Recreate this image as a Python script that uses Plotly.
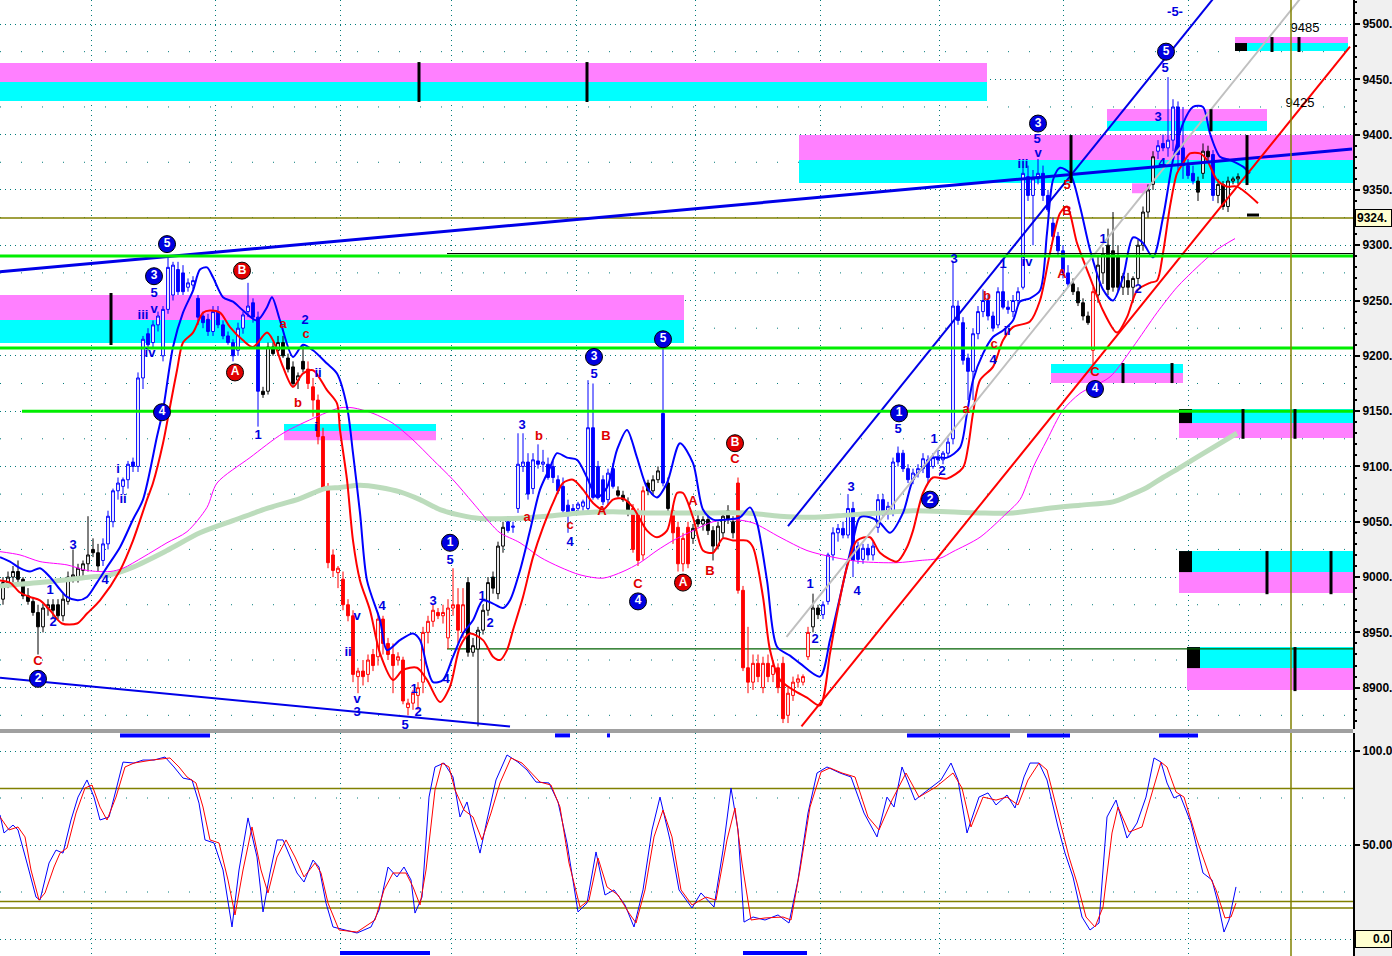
import plotly.graph_objects as go

# ---------------- price bars (bar index = trading day) ----------------
opens = [8980,8995,9000,9005,8998,8983,8978,8968,8955,8972,8975,8975,8965,8978,9000,9000,9006,9012,9025,9022,
         9015,9030,9050,9078,9082,9088,9104,9100,9180,9220,9212,9228,9200,9242,9255,9278,9275,9262,9264,9252,
         9236,9233,9222,9240,9228,9218,9212,9205,9225,9240,9248,9235,9168,9168,9208,9205,9212,9198,9190,9178,
         9195,9188,9172,9160,9127,9081,9020,9004,8998,8975,8965,8910,8915,8912,8930,8928,8962,8940,8930,8925,
         8925,8882,8886,8893,8905,8950,8960,8968,8965,8945,8972,8975,8950,8995,8932,8935,8952,8970,9000,8985,
         9028,9050,9045,9062,9100,9104,9080,9105,9102,9102,9100,9088,9082,9065,9062,9062,9064,9062,9135,9100,
         9088,9070,9098,9078,9074,9068,9062,9058,9020,9085,9078,9088,9148,9085,9060,9045,9012,9045,9035,9052,
         9048,9052,9042,9028,9040,9060,9050,9085,8988,8918,8905,8922,8900,8922,8912,8918,8922,8875,8893,8905,
         8905,8928,8955,8972,8966,8978,9020,9040,9044,9038,9062,9028,9016,9026,9020,9045,9070,9058,9060,9112,
         9112,9098,9088,9094,9098,9106,9100,9108,9106,9112,9125,9245,9230,9198,9186,9220,9240,9250,9236,9228,
         9258,9244,9240,9250,9262,9362,9345,9360,9365,9345,9320,9308,9295,9275,9265,9258,9248,9236,9205,9255,
         9275,9300,9295,9290,9262,9268,9262,9270,9300,9330,9355,9385,9392,9388,9395,9425,9388,9372,9365,9358,
         9365,9385,9382,9345,9355,9335,9358,9360]
highs = [9000,9005,9010,9015,9000,8990,8982,8975,8975,8980,8980,8980,8985,9005,9025,9012,9015,9055,9035,9030,
         9035,9060,9080,9090,9090,9105,9108,9185,9218,9225,9232,9240,9245,9290,9285,9285,9282,9270,9272,9255,
         9240,9238,9245,9245,9232,9222,9215,9230,9240,9266,9252,9240,9172,9212,9212,9218,9218,9202,9195,9185,
         9210,9195,9180,9165,9135,9085,9025,9010,9005,8980,8970,8918,8925,8930,8935,8968,8965,8945,8940,8932,
         8928,8890,8898,8905,8955,8965,8975,8972,8975,8980,9008,8990,8990,9000,8945,8955,8975,9000,9005,9032,
         9050,9055,9050,9130,9130,9112,9112,9120,9115,9108,9105,9092,9090,9070,9066,9068,9070,9178,9175,9105,
         9092,9098,9103,9082,9078,9072,9066,9062,9082,9088,9092,9100,9208,9090,9065,9050,9040,9050,9048,9058,
         9055,9056,9046,9050,9058,9065,9055,9090,8992,8955,8930,8930,8928,8930,8925,8922,8928,8900,8910,8912,
         8912,8955,8985,8975,8978,9022,9045,9048,9050,9075,9068,9032,9030,9030,9032,9075,9075,9068,9108,9118,
         9115,9102,9098,9102,9112,9110,9112,9115,9114,9126,9285,9250,9235,9202,9225,9245,9260,9255,9240,9262,
         9280,9250,9255,9262,9370,9372,9368,9378,9372,9350,9325,9312,9300,9282,9270,9262,9252,9240,9262,9290,
         9298,9315,9330,9300,9275,9275,9272,9305,9335,9355,9385,9395,9400,9452,9432,9430,9425,9378,9372,9362,
         9392,9390,9386,9360,9358,9362,9362,9365]
lows = [8975,8990,8995,8995,8980,8975,8965,8930,8950,8965,8962,8962,8960,8975,8995,8995,9000,9005,9018,9005,
        9010,9025,9045,9070,9075,9080,9095,9095,9170,9205,9208,9222,9195,9238,9250,9255,9255,9258,9260,9228,
        9225,9218,9218,9225,9215,9210,9195,9200,9220,9235,9230,9136,9162,9165,9200,9200,9198,9185,9172,9170,
        9185,9170,9145,9120,9078,9008,9000,8990,8970,8960,8905,8895,8902,8905,8915,8920,8930,8925,8895,8920,
        8885,8875,8880,8880,8895,8940,8955,8962,8958,8935,8965,8940,8945,8928,8928,8865,8948,8965,8985,8980,
        9022,9040,9040,9058,9095,9070,9075,9098,9095,9088,9085,9075,9055,9040,9058,9058,9060,9058,9070,9070,
        9065,9065,9080,9072,9068,9055,9022,9010,9015,9074,9074,9085,9082,9058,9030,9005,9005,9008,9030,9045,
        9042,9038,9015,9025,9035,9048,9035,8985,8915,8895,8898,8905,8895,8905,8905,8895,8868,8868,8888,8900,
        8902,8925,8950,8962,8962,8975,9015,9032,9035,9035,9000,9012,9012,9015,9015,9040,9055,9052,9055,9100,
        9095,9085,9084,9090,9094,9085,9098,9102,9102,9108,9120,9228,9192,9160,9160,9215,9235,9232,9222,9225,
        9242,9238,9235,9245,9260,9340,9300,9355,9340,9330,9305,9290,9270,9262,9255,9245,9232,9228,9192,9248,
        9265,9255,9258,9258,9255,9255,9248,9265,9295,9325,9350,9378,9385,9380,9385,9368,9360,9360,9355,9340,
        9360,9375,9340,9338,9332,9330,9355,9355]
closes = [8995,9000,9005,8998,8983,8978,8968,8955,8972,8975,8970,8965,8980,9000,9002,9008,9012,9020,9022,9010,
          9030,9055,9078,9085,9088,9102,9100,9180,9215,9210,9228,9236,9242,9280,9282,9258,9258,9266,9268,9235,
          9230,9222,9240,9228,9218,9212,9200,9225,9237,9245,9235,9168,9165,9208,9202,9212,9200,9188,9175,9182,
          9188,9175,9160,9127,9081,9013,9006,9008,8975,8965,8912,8915,8910,8925,8920,8962,8940,8930,8920,8928,
          8888,8886,8895,8900,8950,8960,8970,8965,8968,8972,8975,8952,8975,8932,8938,8952,8970,8995,8990,9028,
          9045,9042,9046,9102,9104,9075,9106,9102,9104,9090,9090,9078,9060,9058,9060,9066,9068,9135,9072,9072,
          9068,9094,9082,9074,9070,9058,9025,9015,9078,9078,9088,9096,9085,9062,9040,9012,9035,9012,9044,9048,
          9052,9042,9028,9046,9055,9052,9040,8988,8918,8905,8922,8910,8922,8910,8920,8900,8872,8895,8905,8908,
          8910,8950,8972,8966,8975,9020,9040,9044,9038,9062,9015,9016,9026,9020,9028,9070,9058,9064,9104,9104,
          9098,9088,9094,9098,9107,9090,9108,9106,9112,9122,9245,9232,9196,9186,9220,9240,9250,9236,9225,9258,
          9244,9242,9250,9258,9365,9345,9360,9365,9345,9332,9308,9295,9275,9265,9258,9248,9236,9230,9258,9282,
          9292,9260,9262,9262,9272,9262,9270,9300,9330,9350,9380,9390,9388,9395,9425,9382,9372,9363,9358,9348,
          9385,9380,9345,9355,9335,9358,9360,9362]
# trend state of each bar: n = neutral (black), u = up (blue), d = down (red)
trend_state = ("n"*20 + "u"*32 + "n"*9 + "d"*32 + "n"*8 + "u"*22 + "n"*3 + "d"*3 + "n"*3 + "u" + "n" +
               "d"*4 + "n"*9 + "d"*15 + "n"*2 + "u"*50 + "n"*4 + "d" + "n"*12 + "u"*8 + "n"*3 + "u" + "n"*5)
bars = list(range(len(closes)))

# ---------------- indicator lines (bar, price) ----------------
blue_env = [(-0.6,9018),(1.4,9014),(3.4,9008),(5.4,9005),(7.4,9008),(9.4,9000),(11,8991),(12.8,8982),(15,8979),
            (16.8,8982),(18.8,8995),(20.8,9009),(23.4,9027),(26,9052),(28,9070),(30.8,9127),(32,9151),(34,9208),
            (36,9239),(38,9259),(39.4,9278),(40.8,9280),(42,9271),(44,9253),(46,9249),(48,9241),(50.8,9232),
            (52.8,9244),(53.8,9253),(55.4,9232),(58,9199),(60,9210),(62,9205),(64.8,9193),(66.8,9184),(68.8,9154),
            (70,9112),(71.4,9058),(72.8,8997),(75.4,8961),(76.8,8934),(79.4,8943),(82,8949),(83.4,8943),(84.8,8919),
            (86,8905),(88,8907),(90,8928),(92,8949),(94,8961),(96,8979),(98,8976),(100,8972),(101.4,8979),
            (103.4,9006),(105.4,9042),(107.4,9079),(109.4,9099),(110.8,9112),(112.8,9108),(114.8,9106),(116.8,9090),
            (118.8,9072),(120.8,9081),(122.8,9115),(124.8,9133),(126.8,9108),(128.8,9081),(130.8,9072),(132.8,9085),
            (135.4,9121),(138,9103),(140,9061),(142,9052),(144.8,9052),(147.4,9054),(149.4,9063),(150.8,9049),
            (152.8,8997),(154.8,8937),(157.4,8929),(159.4,8922),(163.4,8910),(165.4,8943),(167.4,8982),(170,9033),
            (171.4,9054),(173.4,9054),(175.4,9049),(177.4,9040),(180,9058),(182,9088),(184,9099),(186,9108),
            (188.8,9108),(191.4,9117),(192.8,9148),(194,9178),(196,9202),(198,9217),(200,9223),(202,9232),
            (203.4,9249),(205.4,9252),(207.4,9259),(208.8,9311),(210,9359),(211.4,9370),(213.4,9365),(215.4,9335),
            (217.4,9296),(220,9260),(222,9250),(224,9271),(226,9307),(228,9302),(230,9289),(232,9325),(234,9377),
            (236,9410),(238,9425),(240,9425),(241.4,9401),(243.4,9380),(245.4,9377),(248,9371),(249.4,9365)]
red_env = [(-0.6,8997),(1.4,8995),(3.4,8986),(5.4,8982),(7.4,8979),(9.4,8970),(11.8,8958),(14.8,8958),(16.8,8967),
           (19.4,8979),(23.4,9006),(26,9033),(28.8,9070),(30,9085),(32,9121),(33.4,9154),(34.8,9187),(36,9212),
           (38,9221),(40,9239),(41.4,9241),(43.4,9239),(45.4,9226),(48,9214),(50,9208),(52.8,9221),(54,9214),
           (56,9190),(58,9172),(60,9184),(62,9187),(64.8,9169),(66.8,9157),(67.4,9133),(68.8,9088),(70,9033),
           (71.4,8997),(73.4,8970),(75.4,8931),(78,8907),(80,8916),(82.8,8918),(84.8,8907),(87.4,8887),(89.4,8901),
           (91.4,8937),(93.4,8949),(96,8943),(98,8928),(99.4,8925),(100.8,8934),(102,8952),(104,8982),(106,9018),
           (108,9045),(110,9067),(112,9085),(114,9088),(116,9079),(118,9067),(120,9061),(122,9070),(124,9071),
           (126,9063),(128.8,9042),(130.8,9036),(132.8,9042),(134.8,9076),(136,9076),(138,9054),(140,9024),
           (142,9022),(144,9035),(146,9033),(148.8,9033),(150,9027),(152,8982),(153.4,8934),(155.4,8907),(158,8898),
           (160.8,8891),(163.4,8884),(165.4,8931),(166.8,8967),(168.8,9009),(170.8,9033),(173.4,9036),(175.4,9022),
           (178.8,9014),(180.8,9027),(182,9042),(184,9076),(186,9090),(188.8,9089),(192,9099),(193,9117),(194,9148),
           (195.4,9178),(198,9190),(200,9214),(202,9226),(205.4,9231),(207.4,9250),(209.4,9293),(211.4,9329),
           (212.8,9335),(214.8,9302),(217.4,9271),(220,9241),(222.8,9221),(224.8,9235),(226.8,9259),(229.4,9266),
           (230.8,9268),(232,9293),(233.4,9335),(234.8,9365),(236,9374),(237.4,9383),(239.4,9383),(240.8,9377),
           (242.8,9359),(244.8,9353),(246.8,9353),(251,9338)]
magenta_avg = [(-0.6,9023),(3.4,9020),(7.4,9014),(12.8,9011),(16.8,9006),(21.4,9005),(24,9008),(28,9018),(32.8,9031),
               (36.8,9041),(40.8,9063),(42.8,9085),(49.4,9108),(56,9130),(62.8,9145),(67.4,9153),(70,9153),(74,9148),
               (78,9139),(82,9124),(86,9106),(90,9088),(94,9067),(97.4,9049),(99.4,9040),(103.4,9031),(107.4,9018),
               (111.4,9009),(115.4,9002),(120,8999),(124,9005),(127.4,9013),(130.8,9024),(134,9033),(138,9042),
               (142,9050),(146,9052),(150,9049),(155.4,9036),(160.8,9024),(166,9018),(171.4,9014),(178.8,9013),
               (183.4,9015),(187.4,9017),(190,9023),(195.4,9036),(200.8,9058),(203.4,9070),(206,9099),(208.8,9124),
               (212,9151),(215.4,9166),(221.4,9181),(226,9208),(230.8,9239),(234.8,9262),(238.8,9280),(242.8,9296),
               (246.4,9306)]
slow_avg = [(-0.6,8992),(7.4,8995),(17.4,9000),(21.4,9002),(26,9009),(32.8,9024),(39.4,9040),(46,9051),(52.8,9062),
            (59.4,9071),(64.4,9080),(67.4,9081),(71.4,9083),(75.4,9081),(79.4,9077),(83.4,9070),(87.4,9061),
            (91.4,9056),(95.4,9053),(102,9053),(108.8,9055),(115.4,9058),(122,9059),(128.8,9058),(142,9058),
            (148.8,9058),(155.4,9055),(161.4,9054),(168.8,9056),(175.4,9058),(182,9060),(195.4,9058),(202,9058),
            (208.8,9062),(215.4,9065),(222,9068),(225.4,9074),(228.8,9081),(232,9090),(235.4,9099),(239.4,9110),
            (246.8,9130)]

# ---------------- trend lines (bar, price) ----------------
upper_trend = [(-0.6, 9276), (269.8, 9387)]
lower_trend = [(-0.6, 8909), (101.4, 8865)]
channel_trend = [(157, 9046), (242.6, 9526)]
red_trend = [(159.7, 8865), (269.4, 9479.5)]
gray_trend = [(156.7, 8946), (260, 9526)]

# ---------------- target zones (bar0, bar1, price0, price1) ----------------
pink_zones = [(-0.6,196.8,9447.6,9464.7),(-0.6,136.2,9232.4,9255.0),(56.2,86.6,9123.8,9132.0),
              (159.2,271,9377.0,9399.6),(220.8,252.8,9412.3,9423.1),(225.8,229.4,9347.0,9356.0),
              (246.4,269.0,9482.8,9488.2),(209.6,236.0,9175.4,9184.4),(235.2,271,9125.7,9139.2),
              (235.2,271,8985.5,9004.5),(236.8,271,8897.8,8917.7)]
cyan_zones = [(-0.6,196.8,9430.4,9447.6),(-0.6,136.2,9211.6,9232.4),(56.2,86.6,9132.0,9138.3),
              (159.2,271,9356.2,9377.0),(220.8,252.8,9403.3,9412.3),(246.4,269.0,9475.6,9482.8),
              (209.6,236.0,9184.4,9192.6),(235.2,271,9139.2,9151.9),(235.2,271,9004.5,9023.5),
              (236.8,271,8917.7,8936.7)]
zone_blocks = [(246.4,248.8,9475.6,9482.8),(235.2,237.8,9139.2,9151.9),(235.2,237.8,9004.5,9023.5),
               (236.8,239.4,8917.7,8936.7)]
zone_marks = [(83.2,9429.5,9465.6),(116.8,9429.5,9465.6),(21.6,9209.8,9256.8),(213.6,9356.2,9399.6),
              (248.8,9354.4,9399.6),(241.6,9403,9423),(253.8,9474.7,9488.2),(259.2,9474.7,9488.2),
              (224,9175.4,9193.5),(233.8,9175.4,9193.5),(248,9125,9151.9),(258.4,9125,9151.9),
              (252.8,8984.5,9023.5),(265.6,8984.5,9023.5),(258.4,8896.9,8936.7)]
green_levels = [(9290.3,-0.6),(9207.0,-0.6),(9150.0,3.8)]
last_price = 9324.6
support_level = 8935.0
resist_level = 9292.5
cursor_bar = 257.6
grid_bars = [17.7, 42.5, 67.4, 89.6, 114.6, 138.4, 163.4, 187.2, 212.0, 237.0]

# ---------------- wave labels (bar, price, text) ----------------
blue_labels = [(9.4,8988,"1"),(10,8959,"2"),(14,9028,"3"),(20.4,8997,"4"),(23,9097,"i"),(24,9070,"ii"),
               (28,9236,"iii"),(29.4,9202,"iv"),(30.2,9242,"v"),(30.2,9256,"5"),(51,9128,"1"),(60.4,9232,"2"),
               (63,9184,"ii"),(62.6,9135,"i"),(69,8932,"ii"),(70.8,8964,"v"),(70.8,8889,"v"),(70.8,8877,"3"),
               (75.8,8973,"4"),(82.2,8898,"1"),(83,8877,"2"),(80.4,8866,"5"),(86,8978,"3"),(88.6,8907,"4"),
               (89.4,9015,"5"),(95.8,8982,"1"),(97.4,8958,"2"),(103.8,9137,"3"),(118.2,9183,"5"),(113.4,9031,"4"),
               (161.4,8993,"1"),(162.4,8943,"2"),(169.6,9081,"3"),(170.8,8987,"4"),(179,9133,"5"),(186.2,9124,"1"),
               (187.8,9095,"2"),(190.2,9287,"3"),(200,9282,"1"),(200.8,9222,"ii"),(198,9196,"4"),(204,9373,"iii"),
               (206.8,9395,"5"),(207,9383,"v"),(204.8,9284,"iv"),(220,9305,"1"),(227,9260,"2"),(231,9415,"3"),
               (231.8,9374,"4"),(232.4,9460,"5"),(234.4,9510,"-5-")]
red_labels = [(7,8923,"C"),(56,9228,"a"),(60.6,9219,"c"),(59,9157,"b"),(104.8,9054,"a"),(107.2,9127,"b"),
              (113.4,9046,"c"),(120.6,9127,"B"),(119.8,9059,"A"),(127,8993,"C"),(138,9068,"A"),(141.4,9005,"B"),
              (146.4,9106,"C"),(192.6,9151,"a"),(198.2,9210,"c"),(196.8,9253,"b"),(211.8,9273,"A"),
              (212.8,9330,"B"),(212.8,9354,"5"),(218.4,9185,"C")]
blue_circled = [(30.2,9272,"3"),(32.8,9301,"5"),(31.8,9149,"4"),(7,8908,"2"),(89.4,9031,"1"),(118.2,9199,"3"),
                (132,9215,"5"),(127,8978,"4"),(179.2,9148,"1"),(185.4,9070,"2"),(207,9410,"3"),(218.4,9170,"4"),
                (232.6,9475,"5")]
red_circled = [(46.4,9185,"A"),(47.8,9277,"B"),(136,8995,"A"),(146.4,9121,"B")]
price_notes = [(260.4,9496,"9485"),(259.4,9428,"9425")]

# ---------------- oscillator (bar, value) ----------------
osc_fast = [(-0.6,66),(0.2,56.4),(2,60.6),(3,58),(4.8,40.4),(6.6,22.3),(7.4,20.7),(9.2,40.4),(10.6,47.3),(12,45.7),
            (13.6,63.3),(15,75.5),(16.8,84.6),(18.2,75.5),(19.4,63.3),(21.2,64.9),(22.6,79.3),(24,94.1),(26.2,93.6),
            (28,95.2),(30.2,95.2),(32.4,96.8),(34.2,91.5),(36,85.6),(37.8,84.6),(39.2,72.3),(40.4,52.7),(42.2,51.1),
            (44,36.7),(45.8,6.4),(47.2,36.7),(49,64.4),(50.8,43.6),(52,14.4),(53.4,35.1),(54.8,52.7),(56,52.7),
            (58.8,35.1),(60.2,30.3),(62,42),(63.2,38.3),(64.6,19.1),(66,6.4),(68.2,4.8),(70.8,3.2),(73.6,6.4),
            (75.2,15.4),(77,38.3),(78.8,33),(80.2,38.3),(81.6,31.4),(82.4,13.8),(83.8,22.3),(85.2,75.5),(86.4,91.5),
            (88.2,93.6),(90,86.2),(91.4,64.9),(92.8,72.9),(94,59.6),(95.4,45.7),(96.8,63.3),(98.6,84.6),(100.8,97.9),
            (103,94.1),(104.8,89.9),(106.6,83.5),(109.2,83),(111,72.9),(112.8,51.1),(115,14.4),(116.8,19.1),
            (118.6,46.3),(120.4,23.4),(122.2,26.1),(124.4,18.1),(126.2,6.4),(128,26.1),(129.8,58),(131.4,75.5),
            (133.4,52.7),(135.2,26.1),(137.8,16.5),(139.6,24.5),(142.2,17),(144,47.3),(145.6,80.3),(147,58),
            (148.2,9),(150,11.7),(152.4,10.1),(155,12.8),(157.2,8.5),(159,31.4),(161,67),(162.8,88.3),(164.8,91.5),
            (167.4,88.3),(169.6,86.2),(172.2,67),(174.8,54.3),(176.8,75.5),(178.2,70.2),(179.8,91.5),(182.4,73.9),
            (184.2,77.7),(187.6,84.6),(189.6,93.6),(191,84.6),(192.8,56.4),(195.2,75.5),(197,77.7),(198.6,71.3),
            (200.8,76.6),(202.4,69.7),(204.2,86.2),(205.4,93.6),(207.2,93.6),(208.8,84.6),(211,59.6),(212.4,45.7),
            (214,33),(215.8,11.7),(217.4,4.8),(219.2,8.5),(220.8,64.9),(222.6,73.9),(224.8,53.7),(226.8,61.7),
            (228.6,75.5),(230.2,96.3),(231.6,94.1),(232.8,83),(234.2,75),(235.4,76.6),(237.6,61.7),(240,35.1),
            (241.8,31.4),(243,19.1),(244.2,3.7),(245.2,10.1),(246.6,27.7)]
osc_slow = [(-0.6,64.9),(1.2,58),(3,59.6),(4.4,54.3),(5.6,36.7),(7.2,20.7),(8.4,24.5),(10.2,38.3),(11.4,45.7),
            (12.8,48.4),(14.6,67),(16.4,80.3),(17.8,81.9),(19.4,70.2),(20.8,63.3),(22.6,75.5),(24.4,91.5),(26.2,93.6),
            (29.8,95.2),(33.4,96.3),(35.2,91.5),(36.8,86.2),(38.6,83),(40,70.2),(41.4,52.7),(43.2,51.1),(45,31.4),
            (46.4,12.8),(48,36.7),(49.8,59.6),(51.6,36.7),(53,24.5),(54.8,43.6),(56.6,52.7),(58.4,43.6),(60.2,33),
            (62.4,40.4),(63.6,35.1),(65,19.1),(67.2,4.8),(70.8,3.7),(74.4,10.1),(76.2,26.1),(78,35.1),(80.6,35.1),
            (82,27.7),(83.4,18.1),(84.6,36.7),(86.4,79.3),(87.8,93.6),(89.2,91.5),(90.4,79.3),(92.2,68.6),(94,64.9),
            (95.8,52.7),(97.6,67),(99.4,83),(101.6,96.3),(103.8,93.6),(105.6,88.3),(107.4,83.5),(109.6,81.9),
            (111.4,70.2),(113.2,40.4),(115.4,17),(117.2,20.7),(119,43.1),(120.8,27.7),(123,23.4),(125.2,13.8),
            (126.6,8.5),(128.4,26.1),(130.2,54.3),(132,68.6),(133.8,54.3),(135.6,26.1),(137.8,18.1),(140.6,22.3),
            (142.6,20.7),(144.8,52.7),(146.4,69.7),(147.8,40.4),(149.6,10.1),(152.4,11.2),(156,11.7),(157.6,10.1),
            (159.4,36.7),(161.4,70.2),(163.6,88.8),(165.4,91),(167.8,88.3),(170.4,86.2),(173,64.9),(175.2,58),
            (177.8,73.9),(180.6,88.3),(183.2,75.5),(186.6,80.9),(190,88.3),(191.8,80.3),(193.6,59.6),(196,75.5),
            (198.6,73.9),(200.8,75.5),(203,71.3),(205,84.6),(207.2,93.6),(208.8,89.9),(211.4,63.3),(213.2,43.6),
            (214.8,29.8),(216.6,11.7),(218.4,6.4),(220,17),(221.8,56.4),(223,70.2),(225.2,56.9),(227.8,59.6),
            (229.8,77.7),(231.6,94.1),(232.8,91.5),(234.6,78.2),(236.2,75.5),(238.8,52.7),(241.4,33),(242.6,26.1),
            (244.4,11.2),(245.6,11.7),(246.6,19.1)]
osc_levels = [80, 20, 16.5]
osc_top_flags = [(23.4,41.4),(110.4,113.4),(120.8,121.4),(180.8,201.4),(204.8,213.4),(231.2,239)]
osc_bottom_flags = [(67.4,85.4),(148,160.8)]
osc_flag_top = 108.3
osc_flag_bottom = -7.4

# ======================================================================
BLUE, RED, TEAL = "#0000ff", "#ff0000", "#007a7a"
FONT = "Liberation Sans"
fig = go.Figure()

def xy(pairs):
    return [p[0] for p in pairs], [p[1] for p in pairs]

def line(pairs, color, width, shape="linear", xa="x", ya="y", dash=None):
    xs, ys = xy(pairs)
    fig.add_trace(go.Scatter(x=xs, y=ys, mode="lines", xaxis=xa, yaxis=ya,
                             line=dict(color=color, width=width, shape=shape, smoothing=0.8 if shape == "spline" else None, dash=dash),
                             hoverinfo="skip"))

shapes = []
for x0, x1, y0, y1 in pink_zones:
    shapes.append(dict(type="rect", xref="x", yref="y", x0=x0, x1=x1, y0=y0, y1=y1,
                       fillcolor="#ff80ff", line=dict(width=0), layer="between"))
for x0, x1, y0, y1 in cyan_zones:
    shapes.append(dict(type="rect", xref="x", yref="y", x0=x0, x1=x1, y0=y0, y1=y1,
                       fillcolor="#00ffff", line=dict(width=0), layer="between"))
for x0, x1, y0, y1 in zone_blocks:
    shapes.append(dict(type="rect", xref="x", yref="y", x0=x0, x1=x1, y0=y0, y1=y1,
                       fillcolor="black", line=dict(width=0), layer="between"))
# sparse dotted half-levels
for lv in range(8875, 9500, 50):
    shapes.append(dict(type="line", xref="paper", yref="y", x0=0, x1=1, y0=lv, y1=lv,
                       line=dict(color=TEAL, width=1, dash="1px,20px"), layer="below"))
for lv in (25, 75):
    shapes.append(dict(type="line", xref="paper", yref="y2", x0=0, x1=1, y0=lv, y1=lv,
                       line=dict(color=TEAL, width=1, dash="1px,20px"), layer="below"))
# horizontal reference levels
shapes.append(dict(type="line", xref="paper", yref="y", x0=0, x1=1, y0=last_price, y1=last_price,
                   line=dict(color="#808000", width=1.5), layer="between"))
shapes.append(dict(type="line", xref="x", yref="y", x0=88.8, x1=271, y0=support_level, y1=support_level,
                   line=dict(color="#006000", width=1.2), layer="between"))
for lv in osc_levels:
    shapes.append(dict(type="line", xref="paper", yref="y2", x0=0, x1=1, y0=lv, y1=lv,
                       line=dict(color="#808000", width=1.5), layer="between"))
# slow averages under candles
line(slow_avg, "#bcdcbc", 5, "spline")
line(magenta_avg, "#ff00ff", 1, "spline")

# candles
groups = {"n": ("black", "white", "black"), "u": (BLUE, "white", BLUE), "d": (RED, "white", RED)}
for key, (lc, upfill, downfill) in groups.items():
    idx = [i for i in bars if trend_state[i] == key]
    fig.add_trace(go.Candlestick(
        x=[bars[i] for i in idx], open=[opens[i] for i in idx], high=[highs[i] for i in idx],
        low=[lows[i] for i in idx], close=[closes[i] for i in idx],
        increasing=dict(line=dict(color=lc, width=1), fillcolor=upfill),
        decreasing=dict(line=dict(color=lc, width=1), fillcolor=downfill),
        whiskerwidth=0, hoverinfo="skip", showlegend=False))

line(blue_env, BLUE, 2, "spline")
line(red_env, RED, 2, "spline")
line(gray_trend, "#c0c0c0", 2)
line(upper_trend, "#0000e8", 3)
line(lower_trend, "#0000e8", 2)
line(channel_trend, "#0000e8", 2)
line(red_trend, RED, 2)

for lv, x0 in green_levels:
    line([(x0, lv), (271, lv)], "#00ee00", 3)
line([(88.8, resist_level), (271, resist_level)], "black", 1)
for xm, y0, y1 in zone_marks:
    line([(xm, y0), (xm, y1)], "black", 3)
line([(248.8, 9327.3), (251.2, 9327.3)], "black", 3)

# labels
for labels, color in ((blue_labels, "#0000e0"), (red_labels, "#e00000")):
    xs, ys = xy(labels)
    fig.add_trace(go.Scatter(x=xs, y=ys, text=[l[2] for l in labels], mode="text",
                             textfont=dict(family=FONT, size=13, color=color, weight="bold"),
                             textposition="middle center", hoverinfo="skip"))
for labels, color in ((blue_circled, "#0000e0"), (red_circled, "#e00000")):
    xs, ys = xy(labels)
    fig.add_trace(go.Scatter(x=xs, y=ys, text=[l[2] for l in labels], mode="markers+text",
                             marker=dict(size=17, color=color, line=dict(color="black", width=1)),
                             textfont=dict(family=FONT, size=12, color="white", weight="bold"),
                             textposition="middle center", hoverinfo="skip"))
xs, ys = xy(price_notes)
fig.add_trace(go.Scatter(x=xs, y=ys, text=[l[2] for l in price_notes], mode="text",
                         textfont=dict(family=FONT, size=13, color="black"), hoverinfo="skip"))

# oscillator
line(osc_fast, BLUE, 1, xa="x2", ya="y2")
line(osc_slow, RED, 1, xa="x2", ya="y2")
for a, b in osc_top_flags:
    line([(a, osc_flag_top), (b, osc_flag_top)], BLUE, 4, xa="x2", ya="y2")
for a, b in osc_bottom_flags:
    line([(a, osc_flag_bottom), (b, osc_flag_bottom)], BLUE, 4, xa="x2", ya="y2")

# cursor and panel separator
shapes.append(dict(type="line", xref="x", yref="paper", x0=cursor_bar, x1=cursor_bar, y0=0, y1=1,
                   line=dict(color="#808000", width=1.5), layer="above"))
shapes.append(dict(type="rect", xref="paper", yref="paper", x0=0, x1=1, y0=0.2333, y1=0.2374,
                   fillcolor="#a0a0a0", line=dict(width=0), layer="above"))

tickfont = dict(family=FONT, size=12, color="black", weight="bold")
xcommon = dict(range=[-0.6, 270], showticklabels=False, tickmode="array", tickvals=grid_bars,
               showgrid=True, gridcolor=TEAL, griddash="1px,4px", gridwidth=1, zeroline=False, ticks="",
               fixedrange=True, showline=False)
fig.update_layout(
    width=1392, height=956, margin=dict(l=0, r=39, t=0, b=0), autosize=False,
    paper_bgcolor="#f0f0f0", plot_bgcolor="white", showlegend=False, boxgap=0.2, hovermode=False,
    xaxis=dict(domain=[0, 1], anchor="y", rangeslider=dict(visible=False), **xcommon),
    xaxis2=dict(domain=[0, 1], anchor="y2", **xcommon),
    yaxis=dict(domain=[0.2374, 1], range=[8862.6, 9521.7], side="right", tickmode="linear", tick0=0, dtick=50,
               tickformat="d", ticksuffix=".", ticks="outside", ticklen=5, tickwidth=2, tickcolor="black",
               tickfont=tickfont, showline=True, linecolor="black", linewidth=2, showgrid=True,
               gridcolor=TEAL, griddash="1px,4px", zeroline=False, automargin=False, fixedrange=True,
               minor=dict(tickmode="linear", tick0=0, dtick=10, ticks="outside", ticklen=2, tickcolor="black",
                          tickwidth=2, showgrid=False)),
    yaxis2=dict(domain=[0, 0.2333], range=[-9.04, 109.6], side="right", tickmode="array",
                tickvals=[0, 50, 100], ticktext=["", "50.00", "100.0"], ticks="outside", ticklen=5, tickwidth=2,
                tickcolor="black", tickfont=tickfont, showline=True, linecolor="black", linewidth=2,
                showgrid=True, gridcolor=TEAL, griddash="1px,4px", zeroline=False, automargin=False,
                fixedrange=True),
    shapes=shapes,
    annotations=[
        dict(xref="paper", yref="y", x=1.0288, y=last_price, xanchor="right", yanchor="middle",
             text="9324.", showarrow=False, bgcolor="#ffffd0", bordercolor="black", borderwidth=1,
             borderpad=1, width=33, align="left", font=tickfont),
        dict(xref="paper", yref="y2", x=1.0288, y=0, xanchor="right", yanchor="middle",
             text="0.0", showarrow=False, bgcolor="#ffffd0", bordercolor="black", borderwidth=1,
             borderpad=1, width=33, align="right", font=tickfont),
    ],
)
fig.write_html("out.html", config={"displayModeBar": False},
               post_script="document.body.style.margin='0px';document.body.style.padding='0px';"
                           "document.body.style.overflow='hidden';")
